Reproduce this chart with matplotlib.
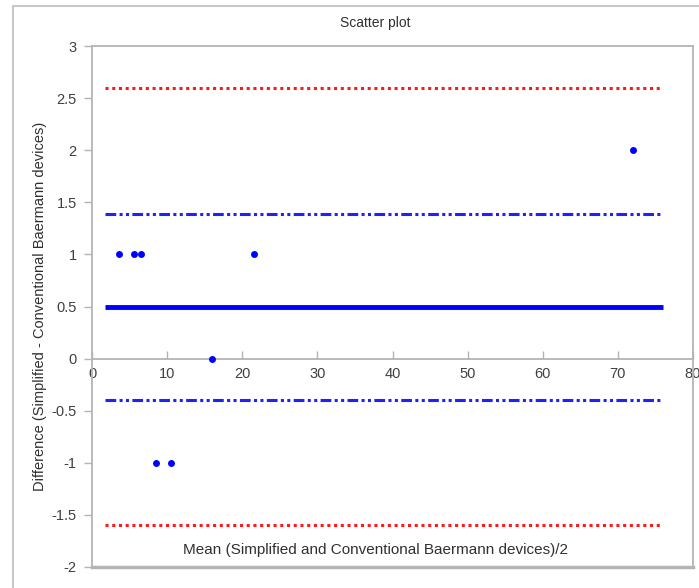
import matplotlib
matplotlib.use("Agg")
import matplotlib.pyplot as plt
from matplotlib.patches import Rectangle

# points off the bias line
mean_vals = [3.6, 5.6, 6.5, 21.5, 16.0, 8.5, 10.5, 72.0]
diff_vals = [1, 1, 1, 1, 0, -1, -1, 2]

bias = 0.5
loa = [1.39, -0.4]        # limits of agreement
outer = [2.6, -1.6]       # red dotted
x_start, x_end = 1.7, 76.0

xticks = [0, 10, 20, 30, 40, 50, 60, 70, 80]
yticks = [-2, -1.5, -1, -0.5, 0, 0.5, 1, 1.5, 2, 2.5, 3]

gray = "#b4b4b4"
plt.rcParams['font.family'] = ['Liberation Sans', 'DejaVu Sans']

fig = plt.figure(figsize=(6.99, 5.88), dpi=100)
ax = fig.add_axes([92 / 699, 21 / 588, 601 / 699, 521 / 588])

# outer frame
fig.patches.append(Rectangle((13 / 699, -0.1), 1.2, (582 / 588) + 0.1,
                             transform=fig.transFigure, fill=False,
                             ec="#c8c8c8", lw=1.5))

ax.hlines(outer, x_start, x_end, colors="#ff1a1a", lw=2.2, linestyles=(0, (1, 1.2)))
ax.hlines(loa, x_start, x_end, colors="#2020ff", lw=2.2,
          linestyles=(0, (3.5, 1.1, 1, 1.1, 1, 1.1)))
ax.hlines(bias, x_start, x_end, colors="#0000ff", lw=3.5)
ax.plot(mean_vals, diff_vals, "o", color="#0000ff", ms=5, mec="none",
        zorder=5, clip_on=False)

ax.set_xlim(0, 80)
ax.set_ylim(-2, 3)
ax.set_xticks(xticks)
ax.set_xticklabels([str(v) for v in xticks])
ax.set_yticks(yticks)
ax.set_yticklabels([("%g" % v) for v in yticks])

for s in ax.spines.values():
    s.set_color(gray)
    s.set_linewidth(1.3)
ax.spines['bottom'].set_position(('data', 0))
ax.axhline(-2, color=gray, lw=2.5, clip_on=False)

ax.tick_params(axis='x', direction='in', length=6, color=gray, width=1,
               labelsize=10.5, labelcolor="#404040", pad=6)
ax.tick_params(axis='y', direction='out', length=6, color=gray, width=1,
               labelsize=10.5, labelcolor="#404040", pad=5)

ax.set_ylabel("Difference (Simplified - Conventional Baermann devices)",
              fontsize=10.5, color="#303030", labelpad=3)
ax.text(37.7, -1.84, "Mean (Simplified and Conventional Baermann devices)/2",
        ha="center", va="center", fontsize=11, color="#303030")
fig.text(375 / 699, 1 - 23 / 588, "Scatter plot", ha="center", va="center",
         fontsize=10, color="#303030")

fig.savefig("out.png", dpi=100)
